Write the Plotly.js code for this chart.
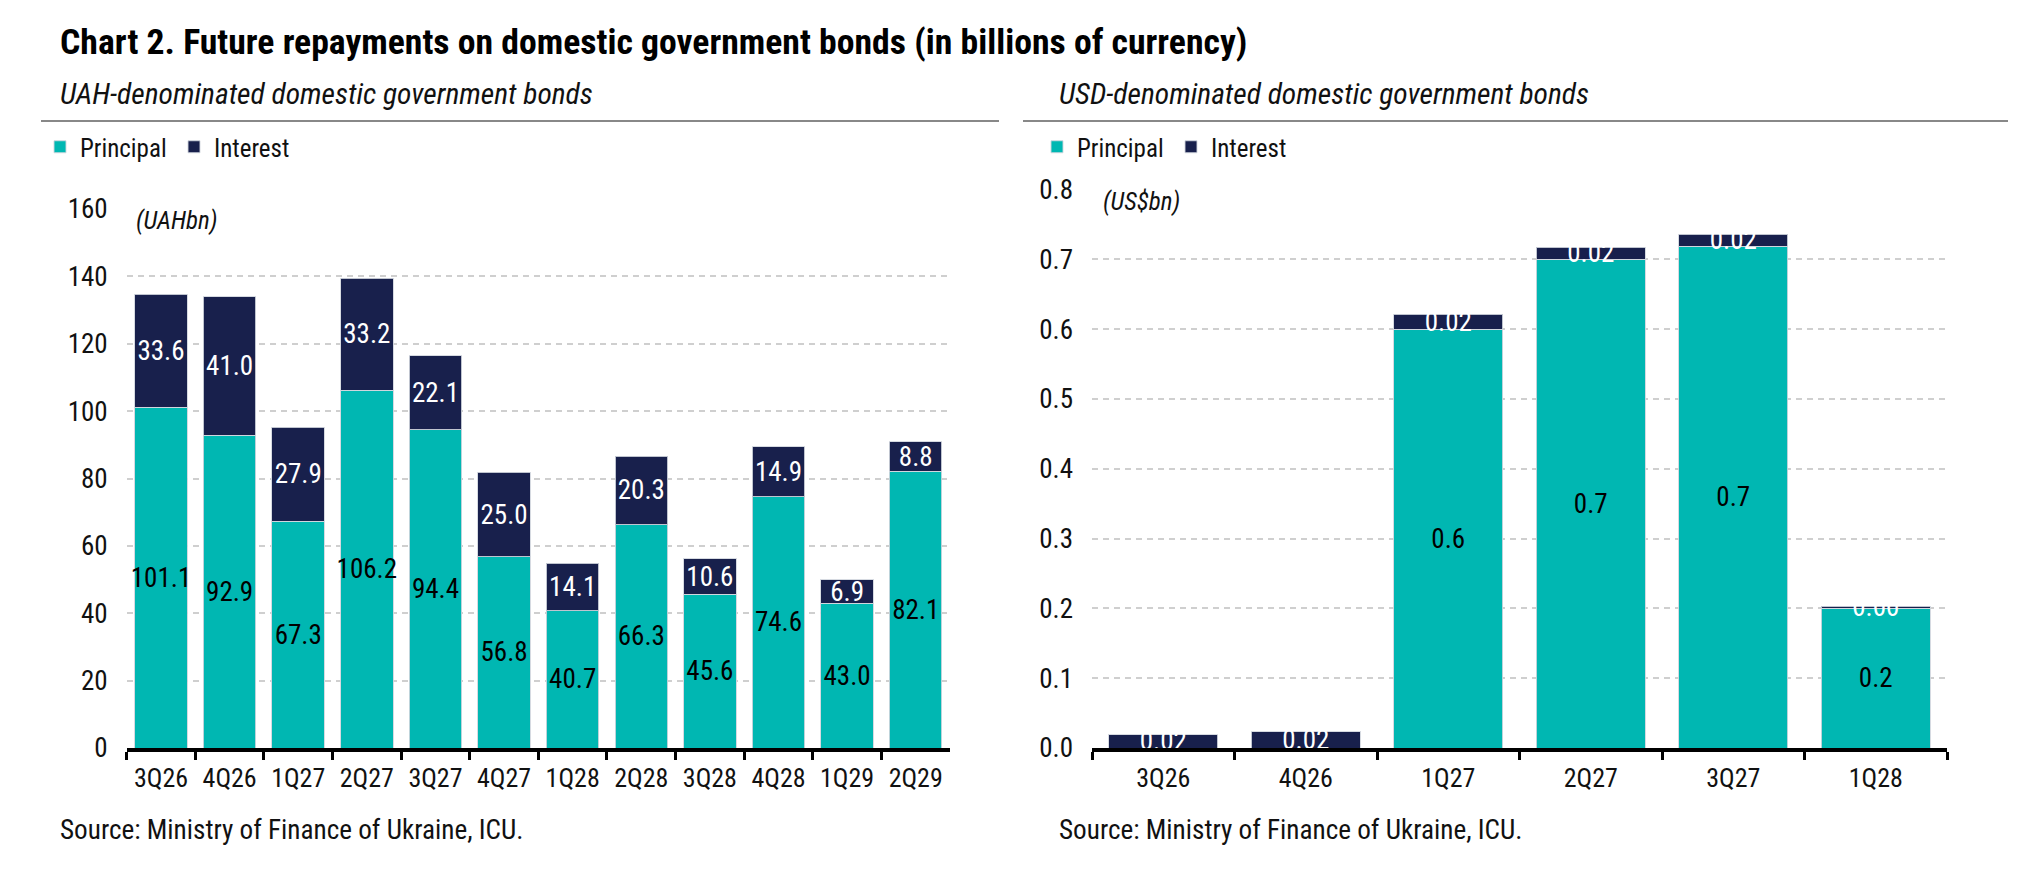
<!DOCTYPE html>
<html>
<head>
<meta charset="utf-8">
<script src="https://cdn.plot.ly/plotly-3.0.1.min.js"></script>
<style>
html,body{margin:0;padding:0;background:#fff;}
#chart{width:2022px;height:870px;}
</style>
</head>
<body>
<div id="chart"></div>
<script>
// ---- data ----
const uahQuarters = ['3Q26','4Q26','1Q27','2Q27','3Q27','4Q27','1Q28','2Q28','3Q28','4Q28','1Q29','2Q29'];
const uahPrincipal = [101.1, 92.9, 67.3, 106.2, 94.4, 56.8, 40.7, 66.3, 45.6, 74.6, 43.0, 82.1];
const uahInterest  = [33.6, 41.0, 27.9, 33.2, 22.1, 25.0, 14.1, 20.3, 10.6, 14.9, 6.9, 8.8];

const usdQuarters = ['3Q26','4Q26','1Q27','2Q27','3Q27','1Q28'];
const usdPrincipal = [0, 0, 0.60, 0.70, 0.719, 0.20];
const usdInterest  = [0.019, 0.023, 0.021, 0.017, 0.017, 0.003];

const uahTicks = [0, 20, 40, 60, 80, 100, 120, 140, 160];
const usdTicks = [0, 0.1, 0.2, 0.3, 0.4, 0.5, 0.6, 0.7, 0.8];

// ---- style ----
const FONT = '"Liberation Sans Narrow", "Arial Narrow", "Roboto Condensed", "DejaVu Sans Condensed", sans-serif';
const TEAL = '#00B7B2';
const NAVY = '#18204C';
const W = 2022, H = 870;
const px = x => x / W;
const py = y => 1 - y / H;

const labelFont = (c) => ({family: FONT, size: 27, color: c});

function barTrace(x, y, text, name, color, tc, xa, ya, leg, show) {
  return {
    type: 'bar', x: x, y: y, name: name, text: text,
    textposition: 'inside', insidetextanchor: 'middle', textangle: 0,
    textfont: labelFont(tc), cliponaxis: false,
    marker: {color: color, line: {color: 'rgba(210,214,222,0.9)', width: 1}},
    xaxis: xa, yaxis: ya, legend: leg, showlegend: show,
    hoverinfo: 'x+y+name'
  };
}

const traces = [
  barTrace(uahQuarters, uahPrincipal, uahPrincipal.map(v => v.toFixed(1)), 'Principal', TEAL, '#000', 'x', 'y', 'legend', true),
  barTrace(uahQuarters, uahInterest, uahInterest.map(v => v.toFixed(1)), 'Interest', NAVY, '#fff', 'x', 'y', 'legend', true),
  barTrace(usdQuarters, usdPrincipal, usdPrincipal.map(v => v > 0 ? v.toFixed(1) : ''), 'Principal', TEAL, '#000', 'x2', 'y2', 'legend2', true),
  barTrace(usdQuarters, usdInterest, usdInterest.map(v => v.toFixed(2)), 'Interest', NAVY, '#fff', 'x2', 'y2', 'legend2', true)
];

function xAxis(domain, anchor) {
  return {
    domain: domain, anchor: anchor, type: 'category',
    showline: true, linecolor: '#000', linewidth: 3.5,
    ticks: 'outside', tickson: 'boundaries', ticklen: 8, tickwidth: 3, tickcolor: '#000',
    showgrid: false, zeroline: false, ticklabelstandoff: 4,
    tickfont: {family: FONT, size: 26, color: '#111'}, fixedrange: true
  };
}
function yAxis(domain, anchor, range, ticks) {
  return {
    domain: domain, anchor: anchor, range: range,
    tickvals: ticks, ticktext: ticks.map(v => (range[1] < 1 ? v.toFixed(1) : String(v))),
    showline: false, zeroline: false, ticks: '',
    showgrid: true, gridcolor: '#cfcfcf', gridwidth: 2, griddash: '6px,5px',
    tickfont: {family: FONT, size: 27, color: '#111'},
    ticklabelstandoff: 18, fixedrange: true
  };
}

const legendBase = (x) => ({
  orientation: 'h', x: x, xanchor: 'left', y: py(147), yanchor: 'middle',
  font: {family: FONT, size: 25, color: '#111'}, bgcolor: 'rgba(0,0,0,0)',
  traceorder: 'normal', entrywidth: 89, entrywidthmode: 'pixels'
});

const layout = {
  width: W, height: H,
  margin: {l: 0, r: 0, t: 0, b: 0},
  paper_bgcolor: '#fff', plot_bgcolor: '#fff',
  font: {family: FONT, size: 26, color: '#111'},
  barmode: 'stack', bargap: 0.235,
  uniformtext: {mode: 'show', minsize: 27},
  xaxis: xAxis([px(126.7), px(950)], 'y'),
  yaxis: yAxis([py(748), py(209)], 'x', [0, 160], uahTicks),
  xaxis2: xAxis([px(1092), px(1947)], 'y2'),
  yaxis2: yAxis([py(748), py(189.5)], 'x2', [0, 0.8], usdTicks),
  legend: legendBase(px(40)),
  legend2: legendBase(px(1037)),
  shapes: [
    {type: 'line', xref: 'paper', yref: 'paper', x0: px(41), x1: px(999), y0: py(121), y1: py(121), line: {color: '#888', width: 2}},
    {type: 'line', xref: 'paper', yref: 'paper', x0: px(1023), x1: px(2008), y0: py(121), y1: py(121), line: {color: '#888', width: 2}}
  ],
  annotations: [
    {xref: 'paper', yref: 'paper', x: px(58), y: py(41.5), xanchor: 'left', yanchor: 'middle', showarrow: false,
     text: '<b>Chart 2. Future repayments on domestic government bonds (in billions of currency)</b>',
     font: {family: FONT, size: 35.7, color: '#000'}},
    {xref: 'paper', yref: 'paper', x: px(58), y: py(94), xanchor: 'left', yanchor: 'middle', showarrow: false,
     text: '<i>UAH-denominated domestic government bonds</i>', font: {family: FONT, size: 29.5, color: '#111'}},
    {xref: 'paper', yref: 'paper', x: px(1057), y: py(94), xanchor: 'left', yanchor: 'middle', showarrow: false,
     text: '<i>USD-denominated domestic government bonds</i>', font: {family: FONT, size: 29.5, color: '#111'}},
    {xref: 'paper', yref: 'paper', x: px(176), y: py(220), xanchor: 'center', yanchor: 'middle', showarrow: false,
     text: '<i>(UAHbn)</i>', font: {family: FONT, size: 25, color: '#111'}},
    {xref: 'paper', yref: 'paper', x: px(1141), y: py(202), xanchor: 'center', yanchor: 'middle', showarrow: false,
     text: '<i>(US$bn)</i>', font: {family: FONT, size: 25, color: '#111'}},
    {xref: 'paper', yref: 'paper', x: px(58), y: py(830), xanchor: 'left', yanchor: 'middle', showarrow: false,
     text: 'Source: Ministry of Finance of Ukraine, ICU.', font: {family: FONT, size: 27.2, color: '#111'}},
    {xref: 'paper', yref: 'paper', x: px(1057), y: py(830), xanchor: 'left', yanchor: 'middle', showarrow: false,
     text: 'Source: Ministry of Finance of Ukraine, ICU.', font: {family: FONT, size: 27.2, color: '#111'}}
  ]
};

Plotly.newPlot('chart', traces, layout, {displayModeBar: false, staticPlot: true});
</script>
</body>
</html>
